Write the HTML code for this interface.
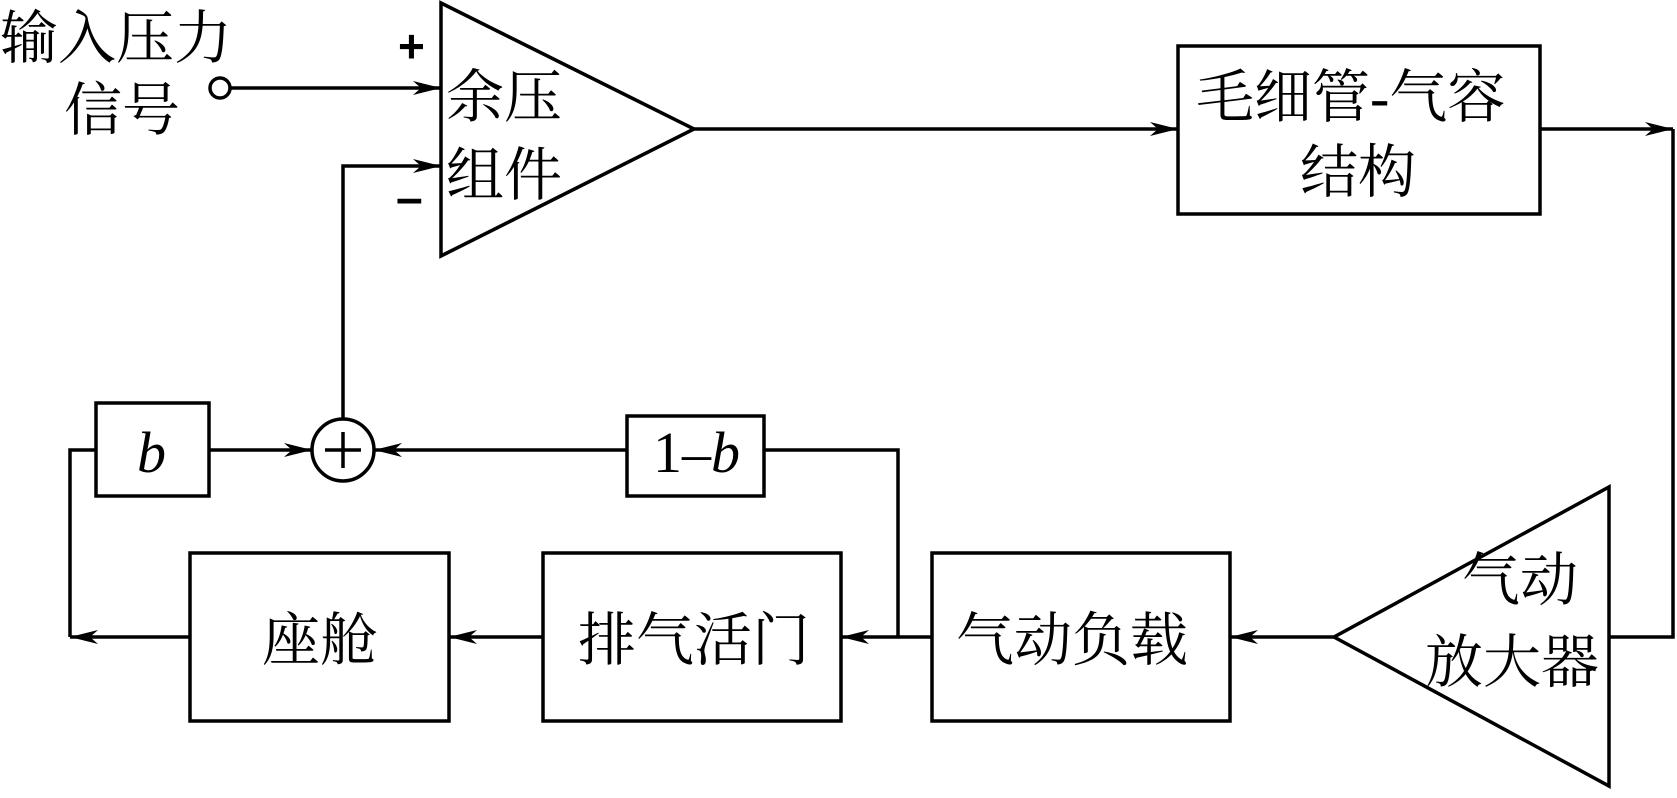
<!DOCTYPE html>
<html><head><meta charset="utf-8"><style>
html,body{margin:0;padding:0;background:#fff;}
svg text{font-family:"Liberation Serif","Noto Serif CJK SC",serif;fill:#000;}
</style></head><body>
<svg width="1677" height="793" viewBox="0 0 1677 793" xmlns="http://www.w3.org/2000/svg">
<defs><marker id="a" markerWidth="30" markerHeight="14" refX="28" refY="7" orient="auto" markerUnits="userSpaceOnUse"><path d="M0,0 L28,7 L0,14 L8,7 Z" fill="#000"/></marker></defs>
<g stroke="#000" stroke-width="3.5" fill="none">
<polygon points="441,3 441,256 694,129"/>
<polygon points="1609,487 1609,786 1334,637"/>
<rect x="1178" y="46" width="362" height="168"/>
<rect x="932" y="553" width="298" height="168"/>
<rect x="543" y="553" width="298" height="168"/>
<rect x="190" y="553" width="259" height="168"/>
<rect x="96" y="403" width="113" height="93"/>
<rect x="627" y="416" width="137" height="80"/>
<circle cx="343" cy="450" r="31"/>
<line x1="343" y1="432" x2="343" y2="468"/><line x1="325" y1="450" x2="361" y2="450"/>
<circle cx="220" cy="88" r="10"/>
<line x1="230" y1="88" x2="441" y2="88" marker-end="url(#a)"/>
<polyline points="343,419 343,166 441,166" marker-end="url(#a)"/>
<line x1="694" y1="129" x2="1178" y2="129" marker-end="url(#a)"/>
<line x1="1540" y1="129" x2="1673" y2="129" marker-end="url(#a)"/>
<polyline points="1673,129 1673,637 1609,637"/>
<line x1="1334" y1="637" x2="1230" y2="637" marker-end="url(#a)"/>
<line x1="932" y1="637" x2="841" y2="637" marker-end="url(#a)"/>
<polyline points="898,637 898,450 764,450"/>
<line x1="627" y1="450" x2="374" y2="450" marker-end="url(#a)"/>
<line x1="209" y1="450" x2="312" y2="450" marker-end="url(#a)"/>
<line x1="543" y1="637" x2="449" y2="637" marker-end="url(#a)"/>
<polyline points="96,450 70,450 70,637"/>
<line x1="190" y1="637" x2="70" y2="637" marker-end="url(#a)"/>
</g>
<g font-size="58">
<text x="0" y="58">输入压力</text>
<text x="64" y="130">信号</text>
<text x="446" y="117">余压</text>
<text x="446" y="195">组件</text>
<text x="1196" y="117">毛细管-气容</text>
<text x="1300" y="192">结构</text>
<text x="1462" y="600">气动</text>
<text x="1425" y="682">放大器</text>
<text x="956" y="660">气动负载</text>
<text x="578" y="660">排气活门</text>
<text x="262" y="660">座舱</text>
<text x="137" y="472" font-style="italic">b</text>
<text x="653" y="472">1–<tspan font-style="italic">b</tspan></text>
</g>
<text x="398" y="62" font-size="46" style="font-family:'Liberation Sans',sans-serif;font-weight:bold">+</text>
<text x="396" y="214" font-size="48" style="font-family:'Liberation Sans',sans-serif;font-weight:bold">–</text>
</svg>
</body></html>
